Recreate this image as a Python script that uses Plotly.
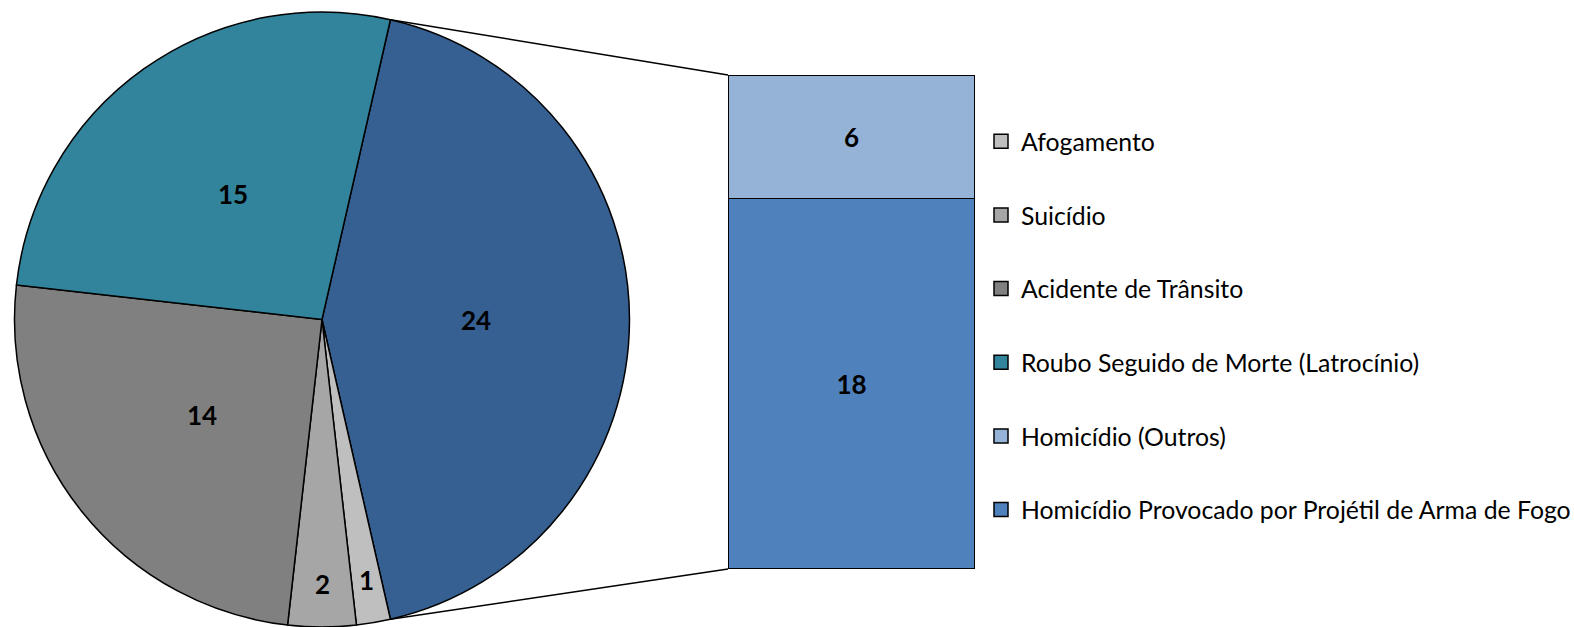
import math
import plotly.graph_objects as go

# ---- data ----
pie_labels = ["Homicídio", "Afogamento", "Suicídio", "Acidente de Trânsito",
              "Roubo Seguido de Morte (Latrocínio)"]
pie_values = [24, 1, 2, 14, 15]
pie_colors = ["#366092", "#BFBFBF", "#A6A6A6", "#808080", "#31849B"]

bar_labels = ["Homicídio Provocado por Projétil de Arma de Fogo", "Homicídio (Outros)"]
bar_values = [18, 6]
bar_colors = ["#4F81BD", "#95B3D7"]

legend_labels = ["Afogamento", "Suicídio", "Acidente de Trânsito",
                 "Roubo Seguido de Morte (Latrocínio)", "Homicídio (Outros)",
                 "Homicídio Provocado por Projétil de Arma de Fogo"]
legend_colors = ["#BFBFBF", "#A6A6A6", "#808080", "#31849B", "#95B3D7", "#4F81BD"]

# ---- geometry (page pixels) ----
W, H = 1574, 627
MT, MB = 12, 0
PH = H - MT - MB
R = PH / 2
CX = 322
CY = MT + R
BAR_X0, BAR_X1 = 728, 975
BAR_TOP, BAR_BOT = 75, 569

FONT = "Lato"

total = sum(pie_values)
rotation = 90 - pie_values[0] / total * 180  # 'other' slice centred at 3 o'clock


def px_to_paper(px, py):
    return px / W, (H - MB - py) / PH


fig = go.Figure()

fig.add_trace(go.Pie(
    labels=pie_labels, values=pie_values, sort=False, direction="clockwise",
    rotation=rotation,
    marker=dict(colors=pie_colors, line=dict(color="black", width=1.5)),
    textinfo="none",
    domain=dict(x=[(CX - R) / W, (CX + R) / W], y=[0, 1]),
    showlegend=False, hoverinfo="label+value",
))

# pie value labels, placed at each slice's mid-angle
annotations = []
cum = 0
for v in pie_values:
    mid = math.radians(rotation + (cum + v / 2) / total * 360)
    cum += v
    frac = 0.5 if v / total > 0.1 else 0.86
    lx = CX + frac * R * math.sin(mid)
    ly = CY - frac * R * math.cos(mid)
    ax, ay = px_to_paper(lx, ly)
    annotations.append(dict(x=ax, y=ay, xref="paper", yref="paper", text=str(v),
                            showarrow=False, xanchor="center", yanchor="middle",
                            font=dict(family=FONT, size=26, color="black", weight="bold")))

for lab, val, col in zip(bar_labels, bar_values, bar_colors):
    fig.add_trace(go.Bar(
        x=[0], y=[val], name=lab, width=1,
        marker=dict(color=col, line=dict(color="black", width=1.5)),
        text=[str(val)], textposition="inside", insidetextanchor="middle",
        textfont=dict(family=FONT, size=26, color="black", weight="bold"),
        showlegend=False, xaxis="x", yaxis="y",
    ))

for lab, col in zip(legend_labels, legend_colors):
    fig.add_trace(go.Scatter(
        x=[None], y=[None], mode="markers", name=lab, legendgroup=lab,
        marker=dict(symbol="square", size=14, color=col,
                    line=dict(color="black", width=1.5)),
        xaxis="x", yaxis="y",
    ))

# connector lines from pie split edges to bar corners
a0 = math.radians(rotation)
a1 = math.radians(rotation + pie_values[0] / total * 360)
p_top = (CX + R * math.sin(a0), CY - R * math.cos(a0))
p_bot = (CX + R * math.sin(a1), CY - R * math.cos(a1))
shapes = []
for (sx, sy), (ex, ey) in [(p_top, (BAR_X0, BAR_TOP)), (p_bot, (BAR_X0, BAR_BOT))]:
    x0, y0 = px_to_paper(sx, sy)
    x1, y1 = px_to_paper(ex, ey)
    shapes.append(dict(type="line", xref="paper", yref="paper", x0=x0, y0=y0,
                       x1=x1, y1=y1, line=dict(color="black", width=1.5),
                       layer="below"))

ybot = px_to_paper(0, BAR_BOT)[1]
ytop = px_to_paper(0, BAR_TOP)[1]

fig.update_layout(
    width=W, height=H,
    margin=dict(l=0, r=0, t=MT, b=MB, autoexpand=False),
    paper_bgcolor="white", plot_bgcolor="white",
    barmode="stack",
    xaxis=dict(domain=[BAR_X0 / W, BAR_X1 / W], range=[-0.5, 0.5], visible=False),
    yaxis=dict(domain=[ybot, ytop], range=[0, sum(bar_values)], visible=False),
    shapes=shapes,
    annotations=annotations,
    legend=dict(x=981 / W, xanchor="left", y=px_to_paper(0, 118.7)[1], yanchor="top",
                traceorder="grouped", tracegroupgap=38.4,
                font=dict(family=FONT, size=24.8, color="black"),
                itemwidth=30, bgcolor="rgba(0,0,0,0)"),
    showlegend=True,
)

fig.write_html(
    "out.html",
    config={"displayModeBar": False},
    post_script="document.body.style.margin='0px';"
                "document.documentElement.style.overflow='hidden';",
)
